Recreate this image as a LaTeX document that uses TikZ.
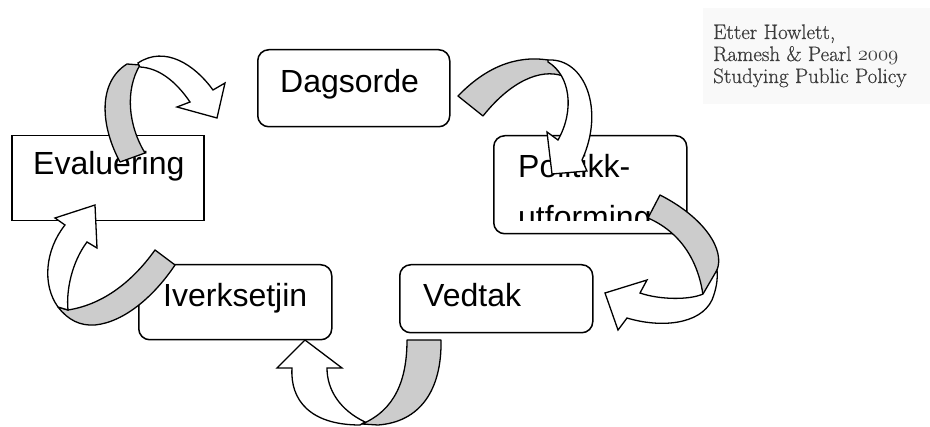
\documentclass[tikz,border=0pt]{standalone}
\usepackage{fontspec}
\setmainfont{Liberation Sans}
\newfontfamily\citefont[FakeBold=0.6]{Latin Modern Roman}
\newcommand\onum[1]{{\usefont{OML}{cmm}{m}{it}#1}}
\definecolor{backgray}{RGB}{204,204,204}
\definecolor{citebg}{RGB}{249,249,249}
\definecolor{citetext}{RGB}{60,60,60}
\begin{document}
\begin{tikzpicture}[x=1pt,y=-1pt,
  box/.style={draw, line width=1.5pt, fill=white, inner sep=0pt, anchor=north west},
  rbox/.style={box, rounded corners=11pt},
  lab/.style={font=\fontsize{32}{38}\selectfont, inner sep=0pt, anchor=base west},
  cite/.style={font=\citefont\fontsize{21}{25}\selectfont, text=citetext, inner sep=0pt, anchor=base west},
  back/.style={draw, fill=backgray, line width=1.3pt, line join=round},
  front/.style={draw, fill=white, line width=1.3pt, line join=miter}]
\useasboundingbox (0,0) rectangle (930,427);

% citation
\fill[citebg] (703,8) rectangle (930,104);
\node[cite] (c1) at (713,39) {Etter Howlett,};
\node[cite] (c2) at (713,61) {Ramesh \& Pearl \onum{2009}};
\node[cite] (c3) at (713,83) {Studying Public Policy};

% boxes
\node[rbox, minimum width=192pt, minimum height=77pt] (dag) at (257,49) {};
\node[lab] (dagt) at (280,93) {Dagsorde};

\node[box, minimum width=192pt, minimum height=85pt] (eval) at (11,135) {};
\node[lab] (evalt) at (33,175) {Evaluering};

\node[rbox, minimum width=193pt, minimum height=98pt] (pol) at (493,135) {};
\node[lab] (polt) at (518,178) {Politikk-};
\begin{scope}
\clip (493,135) rectangle (686,221);
\node[lab] (polt2) at (518,229) {utforming};
\end{scope}

\node[rbox, minimum width=193pt, minimum height=68pt] (ved) at (399,264) {};
\node[lab] (vedt) at (423,307) {Vedtak};

\node[rbox, minimum width=193pt, minimum height=75pt] (ivr) at (138,264) {};
\node[lab] (ivrt) at (163,307) {Iverksetjin};

% arrow A: Evaluering -> Dagsorde
\draw[back] (120,162) .. controls (100,125) and (98,82) .. (127,64)
  -- (140,65) .. controls (125,90) and (128,125) .. (145,153) -- cycle;
\draw[front] (138,63) .. controls (165,45) and (195,65) .. (213,90)
  -- (225,83) -- (217,118) -- (177,107) -- (190,102)
  .. controls (175,80) and (158,68) .. (140,67) -- cycle;

% arrow B: Dagsorde -> Politikk
\draw[back] (458,96) .. controls (485,68) and (515,55) .. (548,60)
  -- (563,76) .. controls (540,68) and (510,82) .. (483,116) -- cycle;
\draw[front] (548,60) .. controls (585,58) and (605,110) .. (582,160)
  -- (587,171) -- (552,174) -- (547,132) -- (558,140)
  .. controls (575,110) and (570,75) .. (548,62) -- cycle;

% arrow C: Politikk -> Vedtak
\draw[back] (660,195) .. controls (705,218) and (725,250) .. (717,270)
  .. controls (712,282) and (708,290) .. (703,295)
  .. controls (698,260) and (680,232) .. (648,218) -- cycle;
\draw[front] (703,294) .. controls (690,300) and (660,300) .. (640,293)
  -- (647,280) -- (605,293) -- (618,330) -- (627,318)
  .. controls (660,328) and (700,325) .. (712,300)
  .. controls (716,290) and (718,280) .. (717,270) -- cycle;

% arrow D: Vedtak -> Iverksetjin
\draw[back] (407,340) -- (441,340) .. controls (442,390) and (420,422) .. (378,425)
  -- (362,424) .. controls (395,410) and (407,380) .. (407,340) -- cycle;
\draw[front] (365,422) .. controls (340,410) and (327,390) .. (327,368)
  -- (342,368) -- (305,340) -- (277,368) -- (292,368)
  .. controls (290,400) and (310,425) .. (360,425) -- cycle;

% arrow E: Iverksetjin -> Evaluering
\draw[back] (155,250) .. controls (130,285) and (100,305) .. (68,310)
  -- (58,307) .. controls (68,320) and (80,326) .. (95,325)
  .. controls (125,322) and (155,295) .. (175,265) -- cycle;
\draw[front] (58,307) .. controls (42,285) and (45,250) .. (65,225)
  -- (55,218) -- (95,205) -- (97,248) -- (87,242)
  .. controls (72,262) and (66,290) .. (68,310) -- cycle;
\end{tikzpicture}
\end{document}
